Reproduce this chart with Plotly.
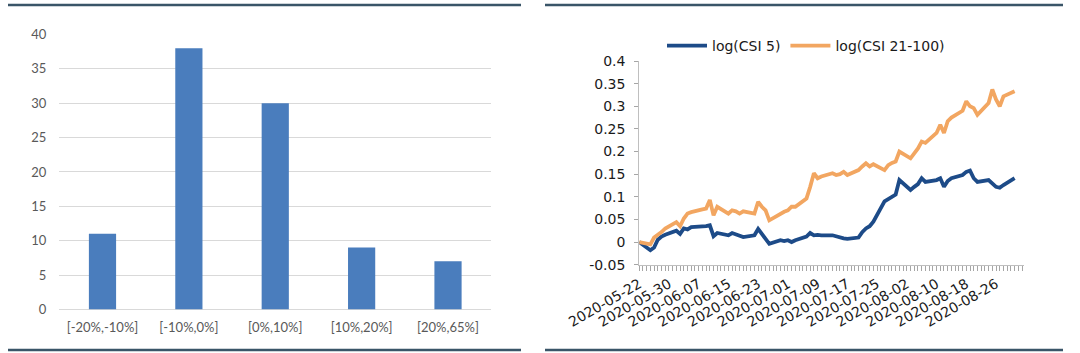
import plotly.graph_objects as go

# ---------------- data ----------------
bins = ["[-20%,-10%]", "[-10%,0%]", "[0%,10%]", "[10%,20%]", "[20%,65%]"]
counts = [11, 38, 30, 9, 7]

dates = [
    "2020-05-22",
    "2020-05-25", "2020-05-26", "2020-05-27", "2020-05-28", "2020-05-29",
    "2020-06-01", "2020-06-02", "2020-06-03", "2020-06-04", "2020-06-05",
    "2020-06-08", "2020-06-09", "2020-06-10", "2020-06-11", "2020-06-12",
    "2020-06-15", "2020-06-16", "2020-06-17", "2020-06-18", "2020-06-19",
    "2020-06-22", "2020-06-23", "2020-06-24", "2020-06-25", "2020-06-26",
    "2020-06-29", "2020-06-30", "2020-07-01", "2020-07-02", "2020-07-03",
    "2020-07-06", "2020-07-07", "2020-07-08", "2020-07-09", "2020-07-10",
    "2020-07-13", "2020-07-14", "2020-07-15", "2020-07-16", "2020-07-17",
    "2020-07-20", "2020-07-21", "2020-07-22", "2020-07-23", "2020-07-24",
    "2020-07-27", "2020-07-28", "2020-07-29", "2020-07-30", "2020-07-31",
    "2020-08-03", "2020-08-04", "2020-08-05", "2020-08-06", "2020-08-07",
    "2020-08-10", "2020-08-11", "2020-08-12", "2020-08-13", "2020-08-14",
    "2020-08-17", "2020-08-18", "2020-08-19", "2020-08-20", "2020-08-21",
    "2020-08-24", "2020-08-25", "2020-08-26", "2020-08-27", "2020-08-28",
    "2020-08-31",
]

csi5 = [
    0.000,
    -0.018, -0.012, 0.005, 0.012, 0.016,
    0.025, 0.018, 0.030, 0.028, 0.033,
    0.033, 0.035, 0.037, 0.013, 0.020,
    0.015, 0.020, 0.017, 0.012, 0.011,
    0.015, 0.029, 0.018, 0.008, -0.004,
    0.004, 0.002, 0.004, 0.000, 0.004,
    0.012, 0.020, 0.015, 0.016, 0.015,
    0.015, 0.012, 0.011, 0.008, 0.007,
    0.010, 0.022, 0.030, 0.035, 0.045,
    0.090, 0.095, 0.098, 0.105, 0.137,
    0.115, 0.122, 0.128, 0.141, 0.133,
    0.137, 0.141, 0.122, 0.135, 0.141,
    0.148, 0.155, 0.158, 0.141, 0.133,
    0.137, 0.130, 0.122, 0.120, 0.126,
    0.141,
]

csi21_100 = [
    0.000,
    -0.005, 0.010, 0.015, 0.022, 0.030,
    0.044, 0.035, 0.052, 0.063, 0.066,
    0.072, 0.074, 0.093, 0.059, 0.078,
    0.063, 0.070, 0.068, 0.063, 0.068,
    0.063, 0.089, 0.078, 0.070, 0.048,
    0.063, 0.067, 0.070, 0.078, 0.078,
    0.096, 0.122, 0.152, 0.141, 0.145,
    0.152, 0.148, 0.150, 0.155, 0.148,
    0.159, 0.167, 0.174, 0.167, 0.172,
    0.159, 0.170, 0.175, 0.178, 0.200,
    0.185, 0.196, 0.207, 0.222, 0.219,
    0.241, 0.259, 0.241, 0.267, 0.275,
    0.290, 0.311, 0.300, 0.296, 0.281,
    0.307, 0.337, 0.315, 0.300, 0.322,
    0.333,
]

left_yticks = [0, 5, 10, 15, 20, 25, 30, 35, 40]
right_yticks = [-0.05, 0, 0.05, 0.1, 0.15, 0.2, 0.25, 0.3, 0.35, 0.4]
right_yticklabels = ["-0.05", "0", "0.05", "0.1", "0.15", "0.2", "0.25", "0.3", "0.35", "0.4"]

# ---------------- figure ----------------
W, H = 1080, 353
fig = go.Figure()

fig.add_trace(go.Bar(
    x=bins, y=counts, marker=dict(color="#4a7dbd", line=dict(width=0)),
    xaxis="x", yaxis="y", showlegend=False,
))

blue = "#1d4b88"
orange = "#f2a661"
fig.add_trace(go.Scatter(
    x=dates, y=csi5, mode="lines", name="log(CSI 5)",
    line=dict(color=blue, width=3.8), xaxis="x2", yaxis="y2",
))
fig.add_trace(go.Scatter(
    x=dates, y=csi21_100, mode="lines", name="log(CSI 21-100)",
    line=dict(color=orange, width=3.8), xaxis="x2", yaxis="y2",
))

def px_x(v):
    return v / W

def px_y(v):
    return 1 - v / H

left_font = dict(family="Lato, Carlito, sans-serif", size=13, color="#595959")
right_font = dict(family="DejaVu Sans, Verdana, sans-serif", size=14, color="#1a1a1a")

fig.update_layout(
    width=W, height=H, autosize=False,
    margin=dict(l=0, r=0, t=0, b=0, pad=0, autoexpand=False),
    paper_bgcolor="white", plot_bgcolor="white",
    bargap=0.685,
    xaxis=dict(
        domain=[px_x(59.3), px_x(491.2)], anchor="y", automargin=False,
        showline=False, showgrid=False, ticks="",
        tickfont=left_font, ticklabelstandoff=8,
    ),
    yaxis=dict(
        domain=[px_y(309.5), px_y(34.4)], anchor="x", automargin=False,
        range=[0, 40], tickvals=left_yticks,
        showgrid=True, gridcolor="#d9d9d9", gridwidth=1,
        zeroline=True, zerolinecolor="#d9d9d9", zerolinewidth=1,
        showline=False, ticks="", tickfont=left_font, ticklabelstandoff=12,
    ),
    xaxis2=dict(
        domain=[px_x(639.2), px_x(1023.9)], anchor="y2", automargin=False,
        type="date", range=["2020-05-22", "2020-09-02 12:00"],
        tick0="2020-05-22", dtick=8 * 86400000, tickformat="%Y-%m-%d",
        tickangle=-30, tickfont=dict(family="DejaVu Sans, Verdana, sans-serif", size=14, color="#1a1a1a"),
        showline=True, linecolor="#bfbfbf", linewidth=1,
        ticks="outside", ticklen=5, tickcolor="#a6a6a6", tickwidth=1,
        minor=dict(dtick=86400000, tick0="2020-05-22", ticks="outside", ticklen=5,
                   tickcolor="#a6a6a6", tickwidth=1, showgrid=False),
        showgrid=False, zeroline=False,
    ),
    yaxis2=dict(
        domain=[px_y(264.7), px_y(61)], anchor="x2", automargin=False,
        range=[-0.05, 0.4], tickvals=right_yticks, ticktext=right_yticklabels,
        showline=True, linecolor="#bfbfbf", linewidth=1,
        ticks="outside", ticklen=4, tickcolor="#a6a6a6",
        showgrid=False, zeroline=False, tickfont=right_font,
        ticklabelstandoff=6,
    ),
    legend=dict(
        orientation="h", x=px_x(662), y=px_y(30), xanchor="left", yanchor="top",
        font=right_font, bgcolor="rgba(0,0,0,0)", itemwidth=40,
        tracegroupgap=0,
    ),
)

# panel separator rules
rule_color = "#3a5568"
for (x0, x1) in [(8, 521), (545, 1063)]:
    for yy in (5, 350):
        fig.add_shape(type="line", xref="paper", yref="paper",
                      x0=px_x(x0), x1=px_x(x1), y0=px_y(yy), y1=px_y(yy),
                      line=dict(color=rule_color, width=2.5))

fig.write_html("out.html")
